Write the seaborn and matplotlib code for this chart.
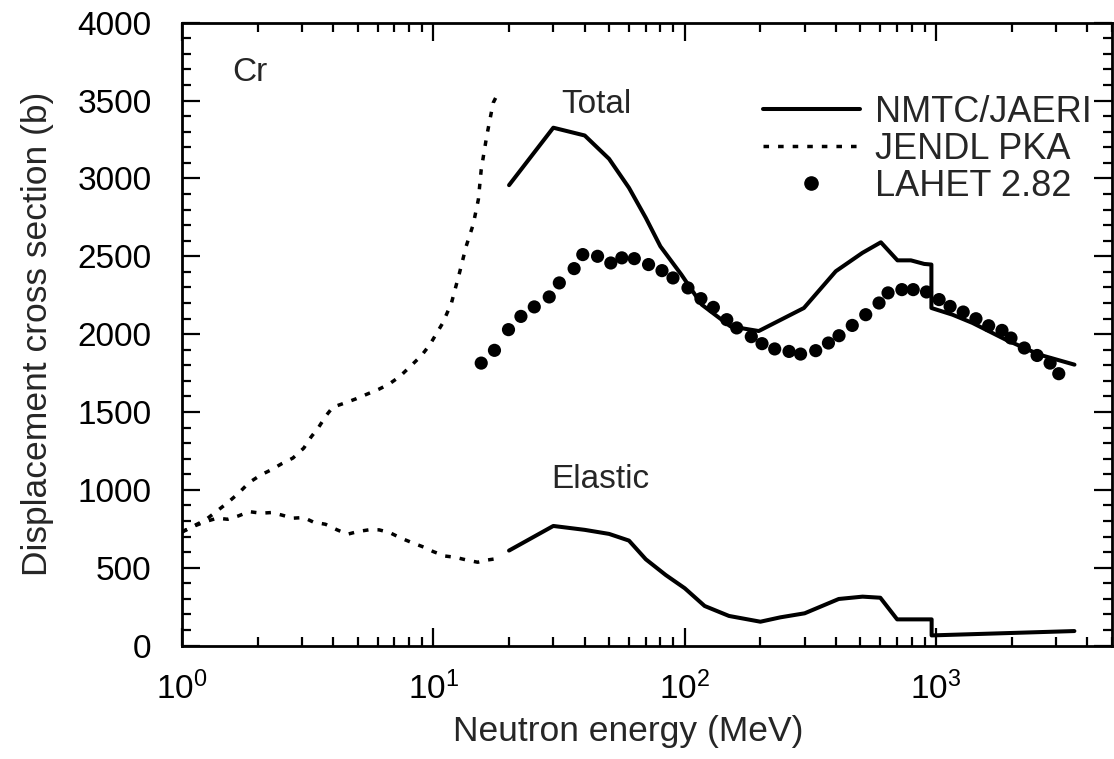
import matplotlib
matplotlib.use("Agg")
import matplotlib.pyplot as plt
from matplotlib.lines import Line2D
from matplotlib.ticker import MultipleLocator, LogLocator
import seaborn as sns
import pandas as pd

# JENDL PKA - total (dotted)
jendl_tot_e = [1.0, 1.24, 1.38, 1.52, 1.68, 1.85, 2.06, 2.26, 2.50, 2.76, 3.05, 3.26,
               3.50, 3.74, 3.98, 4.43, 4.93, 5.49, 6.08, 6.66, 7.35, 8.17, 8.96, 9.68,
               10.9, 11.8, 12.7, 13.5, 14.4, 15.1, 15.5, 16.3, 17.3, 18.1]
jendl_tot_xs = [730, 807, 865, 918, 979, 1047, 1096, 1128, 1169, 1204, 1268, 1339,
                1403, 1476, 1531, 1557, 1585, 1617, 1647, 1679, 1728, 1799, 1862, 1932,
                2072, 2200, 2393, 2564, 2704, 2865, 3057, 3272, 3486, 3550]

# JENDL PKA - elastic (dotted)
jendl_el_e = [1.0, 1.13, 1.24, 1.38, 1.52, 1.68, 1.85, 2.06, 2.26, 2.48, 2.76, 3.05,
              3.34, 3.72, 4.14, 4.56, 5.0, 5.53, 6.08, 6.71, 7.45, 8.22, 9.19, 10.0,
              11.1, 12.2, 13.5, 15.0, 16.5, 18.4]
jendl_el_xs = [730, 770, 796, 818, 811, 833, 860, 850, 854, 839, 818, 822,
               792, 779, 743, 715, 732, 743, 743, 725, 689, 661, 631, 603,
               575, 567, 550, 535, 550, 561]

# NMTC/JAERI - total (solid)
nmtc_tot_e = [20, 30, 40, 50, 60, 70, 80, 97, 117, 152, 197, 298, 399, 509, 603,
              702, 794, 897, 958, 958, 1162, 1396, 1896, 2577, 3553]
nmtc_tot_xs = [2957, 3326, 3276, 3126, 2940, 2747, 2564, 2382, 2189, 2050, 2020, 2168,
               2404, 2522, 2590, 2474, 2474, 2451, 2447, 2168, 2125, 2072, 1964, 1868, 1804]

# NMTC/JAERI - elastic (solid)
nmtc_el_e = [20, 30, 40, 50, 60, 70, 84, 100, 120, 150, 200, 240, 300, 410, 510,
             600, 700, 960, 960, 3550]
nmtc_el_xs = [610, 768, 743, 717, 674, 554, 453, 368, 254, 190, 153, 181, 207, 299, 314,
              307, 168, 168, 65, 93]

# LAHET 2.82 (dots)
lahet_e = [15.5, 17.5, 19.9, 22.3, 25.2, 28.9, 31.7, 36.3, 39.3, 45.0, 50.8, 56.2,
           63.0, 71.8, 81.2, 89.8, 103, 116, 130, 147, 161, 184, 203, 228,
           260, 289, 332, 373, 411, 464, 525, 593, 644, 731, 811, 916,
           1028, 1137, 1282, 1441, 1619, 1829, 1986, 2244, 2523, 2842, 3077]
lahet_xs = [1814, 1896, 2029, 2114, 2175, 2239, 2329, 2421, 2511, 2500, 2457, 2490,
            2485, 2447, 2408, 2361, 2297, 2228, 2172, 2093, 2040, 1984, 1939, 1905,
            1889, 1872, 1894, 1943, 1990, 2056, 2125, 2200, 2265, 2286, 2286, 2271,
            2222, 2178, 2142, 2099, 2054, 2024, 1975, 1911, 1863, 1814, 1746]

sns.set_theme(style="ticks")
plt.rcParams['font.family'] = ['Liberation Sans', 'DejaVu Sans']
plt.rcParams['mathtext.fontset'] = 'custom'
plt.rcParams['mathtext.rm'] = 'Liberation Sans'
plt.rcParams['axes.linewidth'] = 2.0

fig = plt.figure(figsize=(11.14, 7.59), dpi=100)
ax = fig.add_axes([0.1634, 0.1495, 0.8346, 0.8205])

dotted = (0, (1.6, 2.6))
line_kw = dict(color='black', estimator=None, sort=False, ax=ax, legend=False)

sns.lineplot(x=jendl_tot_e, y=jendl_tot_xs, linewidth=2.5, linestyle=dotted, **line_kw)
sns.lineplot(x=jendl_el_e, y=jendl_el_xs, linewidth=2.5, linestyle=dotted, **line_kw)
sns.lineplot(x=nmtc_tot_e, y=nmtc_tot_xs, linewidth=2.9, **line_kw)
sns.lineplot(x=nmtc_el_e, y=nmtc_el_xs, linewidth=2.9, **line_kw)
sns.scatterplot(x=lahet_e, y=lahet_xs, color='black', s=90, edgecolor='none',
                ax=ax, legend=False, zorder=3)

ax.set_xscale('log')
ax.set_xlim(1, 5000)
ax.set_ylim(0, 4000)
ax.yaxis.set_major_locator(MultipleLocator(500))
ax.yaxis.set_minor_locator(MultipleLocator(100))
ax.xaxis.set_major_locator(LogLocator(base=10))
ax.xaxis.set_minor_locator(LogLocator(base=10, subs=range(2, 10)))

ax.tick_params(which='both', direction='in', top=True, right=True, width=1.6,
               colors='black')
ax.tick_params(which='major', length=13)
ax.tick_params(which='minor', length=6.5)
ax.tick_params(axis='y', labelsize=24, pad=22)
ax.tick_params(axis='x', labelsize=24, pad=19)

ax.set_xlabel('Neutron energy (MeV)', fontsize=25.5)
ax.set_ylabel('Displacement cross section (b)', fontsize=25.5)
ax.xaxis.set_label_coords(0.48, -0.112)
ax.yaxis.set_label_coords(-0.138, 0.5)

for sp in ax.spines.values():
    sp.set_color('black')
    sp.set_linewidth(2.0)

ax.text(0.054, 0.92, 'Cr', transform=ax.transAxes, fontsize=24, va='center')
ax.text(0.408, 0.868, 'Total', transform=ax.transAxes, fontsize=24, va='center')
ax.text(0.397, 0.266, 'Elastic', transform=ax.transAxes, fontsize=24, va='center')

handles = [
    Line2D([], [], color='black', linewidth=2.9),
    Line2D([], [], color='black', linewidth=2.5, linestyle=dotted),
    Line2D([], [], color='black', linestyle='none', marker='o', markersize=9.5),
]
labels = ['NMTC/JAERI', 'JENDL PKA', 'LAHET 2.82']
ax.legend(handles, labels, loc='upper right', bbox_to_anchor=(0.978, 0.884),
          frameon=False, fontsize=26, handlelength=2.7, handletextpad=0.4,
          labelspacing=0.05, borderpad=0, borderaxespad=0)

fig.savefig('out.png', dpi=100)
